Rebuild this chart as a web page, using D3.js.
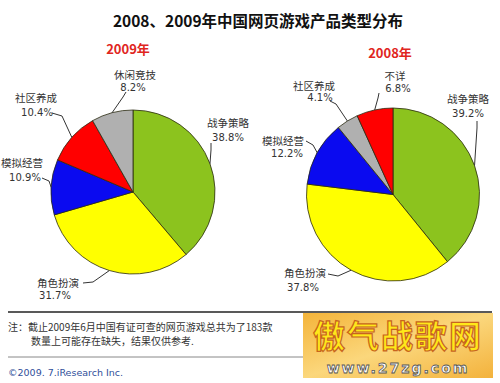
<!DOCTYPE html>
<html>
<head>
<meta charset="utf-8">
<script src="https://cdn.jsdelivr.net/npm/d3@7"></script>
<style>
  body { margin: 0; background: #fff; }
  svg text { font-family: "DejaVu Sans", "Noto Sans CJK SC", sans-serif; }
  .cjk { font-family: "Noto Sans CJK SC", sans-serif; }
</style>
</head>
<body>
<div id="vis"></div>
<script>
// data
const categories2009 = ['战争策略', '角色扮演', '模拟经营', '社区养成', '休闲竞技']
const values2009 = [38.8, 31.7, 10.9, 10.4, 8.2]
const categories2008 = ['战争策略', '角色扮演', '模拟经营', '社区养成', '不详']
const values2008 = [39.2, 37.8, 12.2, 4.1, 6.8]
const colors2009 = ['#8cc31e', '#ffff00', '#0a0af0', '#ff0000', '#b0b0b0']
const colors2008 = ['#8cc31e', '#ffff00', '#0a0af0', '#b0b0b0', '#ff0000']

const W = 500
const H = 383

// label layout: name position, percent position, leader start + elbow
const layout2009 = [
  { name: [228, 122], pct: [228, 137], line: [[211, 143], [211, 150]] },
  { name: [58, 282], pct: [55, 295], line: [[83, 283], [93, 282]] },
  { name: [22, 162], pct: [25, 177], line: [[42, 178], [49, 181]] },
  { name: [36, 97], pct: [37, 112], line: [[52, 113], [62, 116]] },
  { name: [135, 74], pct: [133, 87], line: [[126, 92], [123, 97]] }
]
const layout2008 = [
  { name: [468, 98], pct: [468, 113], line: [[477, 121], [477, 128]] },
  { name: [305, 272], pct: [303, 287], line: [[328, 274], [338, 276]] },
  { name: [283, 140], pct: [287, 153], line: [[306, 141], [313, 145]] },
  { name: [314, 85], pct: [320, 97], line: [[330, 101], [336, 104]] },
  { name: [395, 75], pct: [398, 88], line: [[379, 93], [378, 98]] }
]

const svg = d3.select('#vis').append('svg')
  .attr('width', W)
  .attr('height', H)

svg.append('rect').attr('width', W).attr('height', H).attr('fill', '#fff')

// title
svg.append('text')
  .attr('class', 'cjk')
  .attr('x', 258)
  .attr('y', 27)
  .attr('text-anchor', 'middle')
  .attr('font-size', 15.5)
  .attr('font-weight', 'bold')
  .attr('fill', '#111')
  .text('2008、2009年中国网页游戏产品类型分布')

svg.append('text').attr('class', 'cjk')
  .attr('x', 128).attr('y', 54)
  .attr('text-anchor', 'middle')
  .attr('font-size', 13).attr('font-weight', 'bold')
  .attr('fill', '#e0261e')
  .text('2009年')

svg.append('text').attr('class', 'cjk')
  .attr('x', 390).attr('y', 58)
  .attr('text-anchor', 'middle')
  .attr('font-size', 13).attr('font-weight', 'bold')
  .attr('fill', '#e0261e')
  .text('2008年')

const pie = d3.pie().sort(null)

function drawPie(cx, cy, r, cats, vals, cols, lay) {
  const arc = d3.arc().innerRadius(0).outerRadius(r)
  const arcs = pie(vals)
  const g = svg.append('g').attr('transform', `translate(${cx},${cy})`)

  g.selectAll('path.slice')
    .data(arcs)
    .enter()
    .append('path')
    .attr('class', 'slice')
    .attr('d', arc)
    .attr('fill', (d, i) => cols[i])
    .attr('stroke', '#2a2a10')
    .attr('stroke-width', 0.8)

  // leader lines: from label to middle of the slice edge
  arcs.forEach((d, i) => {
    const mid = (d.startAngle + d.endAngle) / 2
    const ex = cx + r * Math.sin(mid)
    const ey = cy - r * Math.cos(mid)
    const pts = lay[i].line.concat([[ex, ey]])
    svg.append('path')
      .attr('d', d3.line()(pts))
      .attr('fill', 'none')
      .attr('stroke', '#333')
      .attr('stroke-width', 1)

    svg.append('text')
      .attr('class', 'cjk')
      .attr('x', lay[i].name[0]).attr('y', lay[i].name[1])
      .attr('text-anchor', 'middle')
      .attr('dominant-baseline', 'central')
      .attr('font-size', 10.5)
      .attr('fill', '#333')
      .text(cats[i])

    svg.append('text')
      .attr('x', lay[i].pct[0]).attr('y', lay[i].pct[1])
      .attr('text-anchor', 'middle')
      .attr('dominant-baseline', 'central')
      .attr('font-size', 10)
      .attr('fill', '#333')
      .text(vals[i].toFixed(1) + '%')
  })
}

drawPie(133, 192, 82, categories2009, values2009, colors2009, layout2009)
drawPie(393, 194.5, 86.5, categories2008, values2008, colors2008, layout2008)

// footer
svg.append('line')
  .attr('x1', 8).attr('x2', 492).attr('y1', 312).attr('y2', 312)
  .attr('stroke', '#222').attr('stroke-width', 1.5)

svg.append('line')
  .attr('x1', 8).attr('x2', 303).attr('y1', 357).attr('y2', 357)
  .attr('stroke', '#888').attr('stroke-width', 1)

svg.append('text').attr('class', 'cjk')
  .attr('x', 8).attr('y', 331)
  .attr('font-size', 10).attr('fill', '#333')
  .text('注：截止2009年6月中国有证可查的网页游戏总共为了183款')

svg.append('text').attr('class', 'cjk')
  .attr('x', 31).attr('y', 345)
  .attr('font-size', 10).attr('fill', '#333')
  .text('数量上可能存在缺失，结果仅供参考.')

svg.append('text')
  .attr('x', 8).attr('y', 376)
  .attr('font-size', 9.5).attr('fill', '#2f4f9a')
  .text('©2009. 7.iResearch Inc.')

// watermark logo
const defs = svg.append('defs')
const grad = defs.append('linearGradient').attr('id', 'logoGrad')
  .attr('x1', 0).attr('y1', 0).attr('x2', 1).attr('y2', 1)
grad.append('stop').attr('offset', '0%').attr('stop-color', '#f4b43a')
grad.append('stop').attr('offset', '50%').attr('stop-color', '#fbd77c')
grad.append('stop').attr('offset', '100%').attr('stop-color', '#f3b23c')

svg.append('rect')
  .attr('x', 303).attr('y', 313).attr('width', 190).attr('height', 65)
  .attr('fill', 'url(#logoGrad)')

svg.append('text').attr('class', 'cjk')
  .attr('x', 398).attr('y', 348)
  .attr('text-anchor', 'middle')
  .attr('font-size', 32).attr('font-weight', 'bold')
  .attr('fill', '#ffe81a')
  .attr('stroke', '#c8641e').attr('stroke-width', 1.2)
  .attr('letter-spacing', 2)
  .text('傲气战歌网')

svg.append('text')
  .attr('x', 398).attr('y', 373)
  .attr('text-anchor', 'middle')
  .attr('font-size', 14).attr('font-weight', 'bold')
  .attr('fill', '#fff')
  .attr('stroke', '#555').attr('stroke-width', 0.8)
  .attr('letter-spacing', 2)
  .text('www.27zg.com')
</script>
</body>
</html>
